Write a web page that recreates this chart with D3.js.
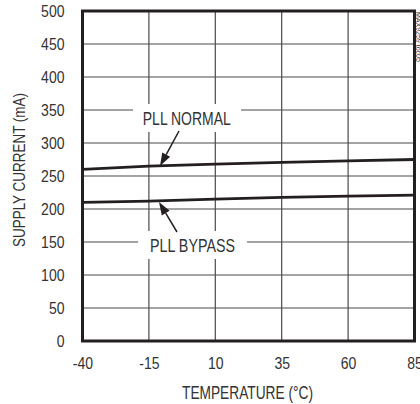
<!DOCTYPE html>
<html><head><meta charset="utf-8">
<script src="https://cdn.jsdelivr.net/npm/d3@7/dist/d3.min.js"></script>
<style>
html,body{margin:0;padding:0;background:#fff;}
svg{display:block;}
text{font-family:"Liberation Sans",Arial,sans-serif;fill:#333;}
</style></head><body>
<svg id="c" width="420" height="404"></svg>
<script>
const temps = [-40, -15, 10, 35, 60, 85];
const normalValues = [260, 265, 268, 270.5, 273, 275];
const bypassValues = [210, 212, 215, 217.5, 219.5, 221];
const xTicks = [-40, -15, 10, 35, 60, 85];
const yTicks = [0, 50, 100, 150, 200, 250, 300, 350, 400, 450, 500];
const seriesNames = ["PLL NORMAL", "PLL BYPASS"];
const xTitle = "TEMPERATURE (°C)";
const yTitle = "SUPPLY CURRENT (mA)";

const svg = d3.select("#c");
const x = d3.scaleLinear().domain([-40, 85]).range([82.5, 414.5]);
const y = d3.scaleLinear().domain([0, 500]).range([341, 11]);

function condense(sel, f) {
  sel.each(function() {
    const len = this.getComputedTextLength();
    d3.select(this).attr("textLength", len * f).attr("lengthAdjust", "spacingAndGlyphs");
  });
}
const CF = 0.82;

// grid
svg.append("g").selectAll("line").data(yTicks.slice(1, -1)).join("line")
  .attr("x1", x(-40)).attr("x2", x(85)).attr("y1", d => y(d)).attr("y2", d => y(d))
  .attr("stroke", "#4a4a4a").attr("stroke-width", 1.2);
svg.append("g").selectAll("line").data(xTicks.slice(1, -1)).join("line")
  .attr("y1", y(0)).attr("y2", y(500)).attr("x1", d => x(d)).attr("x2", d => x(d))
  .attr("stroke", "#4a4a4a").attr("stroke-width", 1.2);

// axes labels
const yAxis = d3.axisLeft(y).tickValues(yTicks).tickSize(0).tickPadding(18).tickFormat(d => String(d));
const gy = svg.append("g").attr("transform", `translate(${x(-40)},0)`).call(yAxis);
gy.select(".domain").remove();
gy.selectAll("text").attr("font-size", 16.5).attr("dy", "0.36em")
  .style("font-family", '"Liberation Sans",Arial,sans-serif').attr("fill", "#333")
  .call(condense, 0.85);

const xAxis = d3.axisBottom(x).tickValues(xTicks).tickSize(0).tickPadding(16).tickFormat(d => String(d));
const gx = svg.append("g").attr("transform", `translate(0,${y(0)})`).call(xAxis);
gx.select(".domain").remove();
gx.selectAll("text").attr("font-size", 16.5)
  .style("font-family", '"Liberation Sans",Arial,sans-serif').attr("fill", "#333")
  .call(condense, 0.85);

svg.append("text").attr("x", 247.5).attr("y", 398.5).attr("text-anchor", "middle")
  .attr("font-size", 17.5).attr("textLength", 131).attr("lengthAdjust", "spacingAndGlyphs").text(xTitle);
svg.append("text").attr("transform", "translate(25,170) rotate(-90)").attr("text-anchor", "middle")
  .attr("font-size", 17).attr("textLength", 154).attr("lengthAdjust", "spacingAndGlyphs").text(yTitle);

// data lines
const line = d3.line().x((d, i) => x(temps[i])).y(d => y(d));
[normalValues, bypassValues].forEach(vals => {
  svg.append("path").attr("d", line(vals)).attr("fill", "none")
    .attr("stroke", "#231f20").attr("stroke-width", 2.8);
});

// labels with white boxes
const labels = [
  {name: seriesNames[0], cx: 186.8, cy: 118, w: 88, x0: 133, x1: 241, from: [179, 131], to: [160, 166]},
  {name: seriesNames[1], cx: 192.5, cy: 245, w: 85, x0: 138, x1: 247, from: [177, 232], to: [159, 202]}
];
labels.forEach(l => {
  svg.append("rect").attr("x", l.x0).attr("y", l.cy - 14).attr("width", l.x1 - l.x0).attr("height", 28).attr("fill", "#fff");
  svg.append("text").attr("x", l.cx).attr("y", l.cy).attr("dy", "0.36em").attr("text-anchor", "middle")
    .attr("font-size", 19).attr("textLength", l.w).attr("lengthAdjust", "spacingAndGlyphs").text(l.name);
  const [fx, fy] = l.from, [tx, ty] = l.to;
  const ang = Math.atan2(ty - fy, tx - fx);
  const hl = 13, hw = 4.5;
  const bx = tx - hl * Math.cos(ang), by = ty - hl * Math.sin(ang);
  svg.append("line").attr("x1", fx).attr("y1", fy).attr("x2", bx).attr("y2", by)
    .attr("stroke", "#231f20").attr("stroke-width", 1.5);
  const px = -Math.sin(ang) * hw, py = Math.cos(ang) * hw;
  svg.append("path").attr("d", `M${tx},${ty}L${bx + px},${by + py}L${bx - px},${by - py}Z`).attr("fill", "#231f20");
});

// frame
svg.append("rect").attr("x", x(-40)).attr("y", y(500)).attr("width", x(85) - x(-40)).attr("height", y(0) - y(500))
  .attr("fill", "none").attr("stroke", "#231f20").attr("stroke-width", 3);

// clipped figure code at right edge
svg.append("text").attr("transform", "translate(416,12) rotate(90)").attr("font-size", 7)
  .attr("fill", "#555").text("MAX9259 toc05");
</script>
</body></html>
